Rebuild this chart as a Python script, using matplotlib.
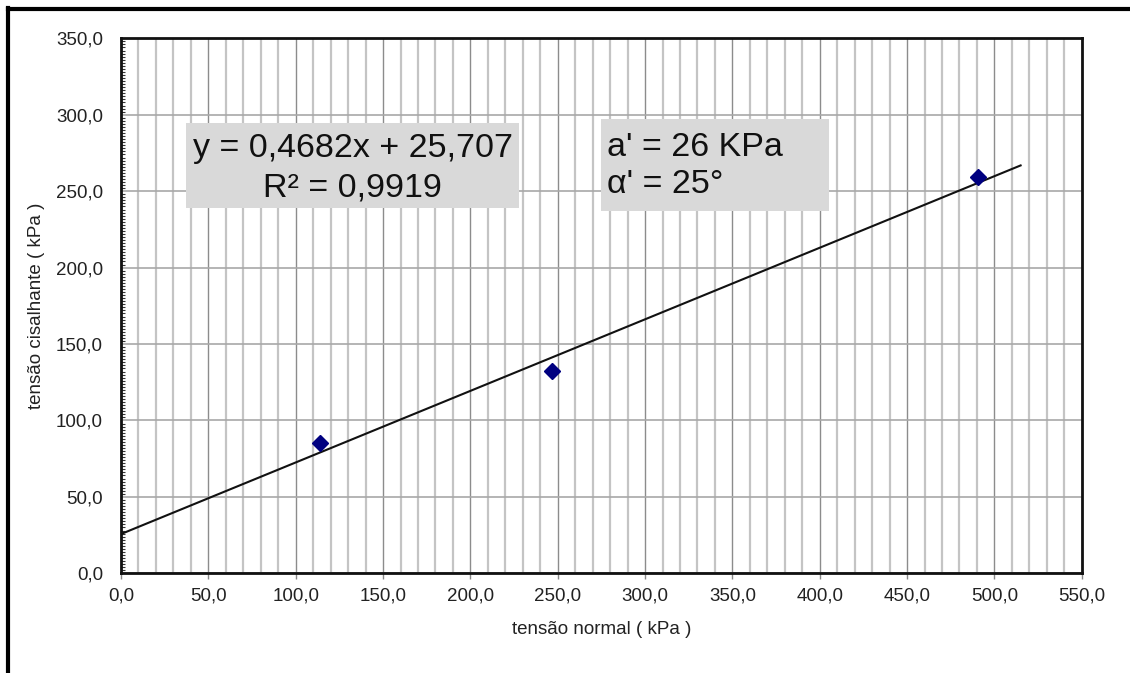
import matplotlib
matplotlib.use("Agg")
import matplotlib.pyplot as plt
import numpy as np
from matplotlib.patches import Rectangle
from matplotlib.lines import Line2D
from matplotlib.ticker import MultipleLocator, FuncFormatter

plt.rcParams['font.family'] = ['Liberation Sans', 'DejaVu Sans']

# data
sigma_normal = [113.9, 246.9, 490.5]
tau_shear = [85.4, 132.3, 259.0]
slope = 0.4682
intercept = 25.707
trend_x = [0.0, 515.0]
eq_text = "y = 0,4682x + 25,707\nR² = 0,9919"
param_lines = ["a' = 26 KPa", "α' = 25°"]

fig = plt.figure(figsize=(11.3, 6.73), dpi=100)
ax = fig.add_axes([0.1071, 0.1481, 0.9573 - 0.1071, 0.9431 - 0.1481])

ax.set_xlim(0, 550)
ax.set_ylim(0, 350)

ax.xaxis.set_major_locator(MultipleLocator(50))
ax.xaxis.set_minor_locator(MultipleLocator(10))
ax.yaxis.set_major_locator(MultipleLocator(50))
ax.yaxis.set_minor_locator(MultipleLocator(2))
fmt = FuncFormatter(lambda v, p: f"{v:.1f}".replace('.', ','))
ax.xaxis.set_major_formatter(fmt)
ax.yaxis.set_major_formatter(fmt)

ax.grid(True, axis='x', which='minor', color='#c4c4c4', lw=1.6, zorder=0)
ax.grid(True, axis='x', which='major', color='#8c8c8c', lw=1.0, zorder=0)
ax.grid(True, axis='y', which='major', color='#a8a8a8', lw=1.2, zorder=0)
ax.set_axisbelow(True)

ax.tick_params(axis='x', which='major', direction='out', length=4, width=1, color='#888888',
               labelsize=13.5, pad=6, labelcolor='#222222')
ax.tick_params(axis='x', which='minor', length=0)
ax.tick_params(axis='y', which='major', direction='out', length=0, labelsize=13.5, pad=13,
               labelcolor='#222222')
ax.tick_params(axis='y', which='minor', direction='in', length=3, width=0.8, color='#333333')

for s in ax.spines.values():
    s.set_linewidth(2)
    s.set_color('#111111')

xs = np.array(trend_x)
ax.plot(xs, slope * xs + intercept, color='#111111', lw=1.5, zorder=3)
ax.plot(sigma_normal, tau_shear, linestyle='none', marker='D', markersize=8,
        color='#000080', zorder=4)

ax.set_xlabel("tensão normal ( kPa )", fontsize=13.5, color='#222222', labelpad=12)
ax.set_ylabel("tensão cisalhante ( kPa )", fontsize=13.5, color='#222222', labelpad=8)

# text boxes
ax.add_patch(Rectangle((37.2, 239.2), 227.9 - 37.2, 294.8 - 239.2, facecolor='#d9d9d9',
                       edgecolor='none', zorder=5))
ax.text((37.2 + 227.9) / 2, (239.2 + 294.8) / 2 - 2.0, eq_text, ha='center', va='center',
        fontsize=24.5, color='#111111', linespacing=1.35, zorder=6)
ax.add_patch(Rectangle((274.8, 237.0), 405.3 - 274.8, 297.2 - 237.0, facecolor='#d9d9d9',
                       edgecolor='none', zorder=5))
ax.text(278.0, (237.0 + 297.2) / 2 - 0.5, "\n".join(param_lines), ha='left', va='center',
        fontsize=24.5, color='#111111', linespacing=1.25, zorder=6)

# outer frame (top and left)
fig.add_artist(Line2D([8 / 1130, 1.0], [1 - 9 / 673, 1 - 9 / 673], transform=fig.transFigure,
                      color='black', lw=3))
fig.add_artist(Line2D([8 / 1130, 8 / 1130], [0.0, 1 - 8 / 673], transform=fig.transFigure,
                      color='black', lw=3))

fig.savefig("out.png", dpi=100, facecolor='white')
